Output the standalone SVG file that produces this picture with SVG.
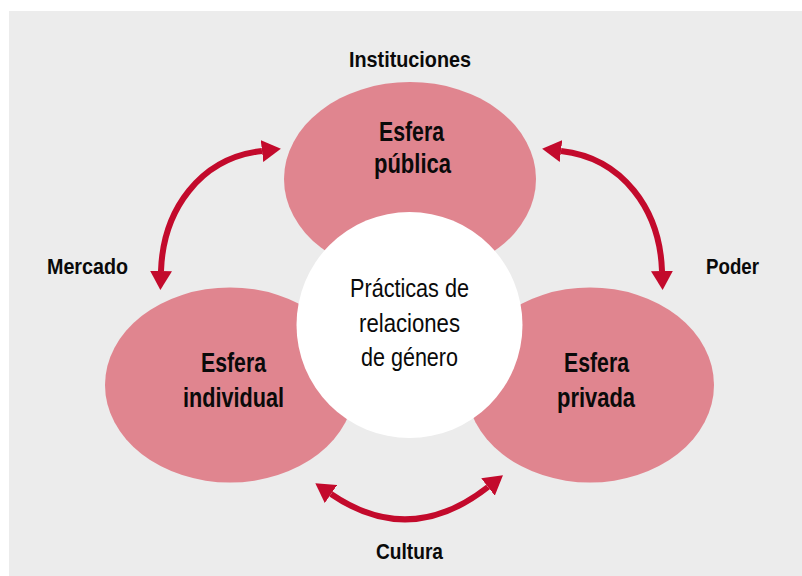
<svg xmlns="http://www.w3.org/2000/svg" width="802" height="576" viewBox="0 0 802 576">
  <style>
    .sphere { fill: #e0858f; }
    .core { fill: #ffffff; }
    .lbl { font-family: "Liberation Sans", Arial, sans-serif; font-weight: bold; font-size: 22px; fill: #0a0a0a; text-anchor: middle; }
    .sph { font-family: "Liberation Sans", Arial, sans-serif; font-weight: bold; font-size: 27px; fill: #0a0a0a; text-anchor: middle; }
    .ctr { font-family: "Liberation Sans", Arial, sans-serif; font-size: 25px; fill: #0a0a0a; text-anchor: middle; }
    .arr { fill: none; stroke: #c30a2c; stroke-width: 6; marker-start: url(#head); marker-end: url(#head); }
  </style>
  <defs>
    <marker id="head" markerUnits="userSpaceOnUse" markerWidth="20" markerHeight="24" refX="0" refY="11" orient="auto-start-reverse" viewBox="0 0 20 22">
      <path d="M0,0 L19,11 L0,22 Z" fill="#c30a2c"/>
    </marker>
  </defs>
  <rect x="9" y="11" width="793" height="565" fill="#ececec"/>

  <g id="connectors">
    <path class="arr" d="M 262,151 C 200,158 163,210 161,271"/>
    <path class="arr" d="M 561,151 C 623,158 660,210 662,271"/>
    <path class="arr" d="M 331,494 Q 410,548 488,487"/>
  </g>

  <g id="esfera-publica">
    <ellipse class="sphere" cx="410" cy="179" rx="126" ry="97"/>
    <text class="sph" x="411.5" y="141" textLength="65" lengthAdjust="spacingAndGlyphs">Esfera</text>
    <text class="sph" x="412.5" y="173" textLength="77" lengthAdjust="spacingAndGlyphs">pública</text>
  </g>
  <g id="esfera-individual">
    <ellipse class="sphere" cx="230" cy="385" rx="125" ry="97.5"/>
    <text class="sph" x="233.5" y="372" textLength="65" lengthAdjust="spacingAndGlyphs">Esfera</text>
    <text class="sph" x="233.5" y="406.5" textLength="101" lengthAdjust="spacingAndGlyphs">individual</text>
  </g>
  <g id="esfera-privada">
    <ellipse class="sphere" cx="590" cy="385" rx="124" ry="97.5"/>
    <text class="sph" x="596.5" y="372" textLength="65" lengthAdjust="spacingAndGlyphs">Esfera</text>
    <text class="sph" x="596" y="406.5" textLength="78" lengthAdjust="spacingAndGlyphs">privada</text>
  </g>
  <g id="practicas">
    <circle class="core" cx="409.5" cy="325" r="113"/>
    <text class="ctr" x="409.5" y="297" textLength="119" lengthAdjust="spacingAndGlyphs">Prácticas de</text>
    <text class="ctr" x="409.5" y="331.5" textLength="101" lengthAdjust="spacingAndGlyphs">relaciones</text>
    <text class="ctr" x="409.5" y="366" textLength="97" lengthAdjust="spacingAndGlyphs">de género</text>
  </g>

  <g id="instituciones">
    <text class="lbl" x="410" y="67" textLength="122" lengthAdjust="spacingAndGlyphs">Instituciones</text>
  </g>
  <g id="mercado">
    <text class="lbl" x="87.5" y="273.5" textLength="81" lengthAdjust="spacingAndGlyphs">Mercado</text>
  </g>
  <g id="poder">
    <text class="lbl" x="732.5" y="273.5" textLength="53" lengthAdjust="spacingAndGlyphs">Poder</text>
  </g>
  <g id="cultura">
    <text class="lbl" x="409.5" y="559" textLength="67" lengthAdjust="spacingAndGlyphs">Cultura</text>
  </g>
</svg>
